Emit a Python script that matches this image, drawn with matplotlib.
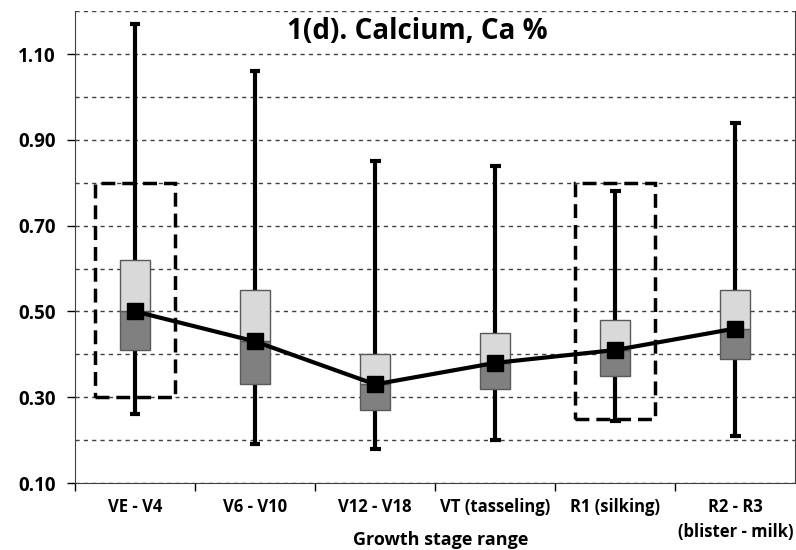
import matplotlib
matplotlib.use('Agg')
import matplotlib.pyplot as plt
import matplotlib.ticker as ticker
from matplotlib.patches import Rectangle

stages = ['VE - V4', 'V6 - V10', 'V12 - V18', 'VT (tasseling)', 'R1 (silking)',
          'R2 - R3\n(blister - milk)']
whisker_low = [0.26, 0.19, 0.18, 0.20, 0.245, 0.21]
whisker_high = [1.17, 1.06, 0.85, 0.84, 0.78, 0.94]
box_low = [0.41, 0.33, 0.27, 0.32, 0.35, 0.39]
box_mid = [0.50, 0.43, 0.33, 0.38, 0.41, 0.46]
box_high = [0.62, 0.55, 0.40, 0.45, 0.48, 0.55]
means = [0.50, 0.43, 0.33, 0.38, 0.41, 0.46]

# sufficiency ranges (dashed boxes)
range_idx = [0, 4]
range_low = [0.30, 0.25]
range_high = [0.80, 0.80]

plt.rcParams['font.family'] = ['Open Sans', 'DejaVu Sans']
plt.rcParams['font.weight'] = 'bold'

fig = plt.figure(figsize=(7.96, 5.5), dpi=100)
ax = fig.add_axes([0.0942, 0.1218, 0.905, 0.858])

x = list(range(len(stages)))
bw = 0.25

for i in x:
    ax.vlines(i, whisker_low[i], whisker_high[i], color='black', lw=3, zorder=2)
    ax.hlines([whisker_low[i], whisker_high[i]], i - 0.045, i + 0.045,
              color='black', lw=3, zorder=2)
    ax.add_patch(Rectangle((i - bw / 2, box_low[i]), bw, box_mid[i] - box_low[i],
                           facecolor='#808080', edgecolor='#595959', lw=1, zorder=3))
    ax.add_patch(Rectangle((i - bw / 2, box_mid[i]), bw, box_high[i] - box_mid[i],
                           facecolor='#d9d9d9', edgecolor='#595959', lw=1, zorder=3))

for k, i in enumerate(range_idx):
    ax.add_patch(Rectangle((i - 0.335, range_low[k]), 0.67, range_high[k] - range_low[k],
                           fill=False, edgecolor='black', lw=2.5, ls=(0, (4, 2)), zorder=4))

ax.plot(x, means, color='black', lw=3, marker='s', markersize=12, zorder=5)

ax.set_xlim(-0.5, len(stages) - 0.5)
ax.set_ylim(0.1, 1.2)
ax.yaxis.set_major_locator(ticker.FixedLocator([0.1, 0.3, 0.5, 0.7, 0.9, 1.1]))
ax.yaxis.set_minor_locator(ticker.FixedLocator([0.2, 0.4, 0.6, 0.8, 1.0, 1.2]))
ax.yaxis.set_major_formatter(ticker.FormatStrFormatter('%.2f'))
ax.grid(axis='y', which='both', color='#404040', lw=1, ls=(0, (3, 3)), zorder=1)
ax.set_axisbelow(True)
ax.tick_params(axis='y', which='major', length=6, width=1, labelsize=13.5, pad=8)
ax.tick_params(axis='y', which='minor', length=0)

ax.set_xticks([i + 0.5 for i in x[:-1]] + [-0.5], minor=False)
ax.set_xticklabels([])
ax.set_xticks(x, minor=True)
ax.set_xticklabels(stages, minor=True, fontsize=12, va='top', ha='center',
                   linespacing=1.45)
ax.tick_params(axis='x', which='major', length=6, width=1)
ax.tick_params(axis='x', which='minor', length=0, pad=11)

ax.spines['top'].set_visible(False)
for s in ['left', 'bottom', 'right']:
    ax.spines[s].set_color('#404040')

fig.text(0.553, 0.018, 'Growth stage range', fontsize=13, fontweight='bold',
         ha='center', va='center')
ax.text(2.35, 1.152, '1(d). Calcium, Ca %', fontsize=20, fontweight='bold',
        ha='center', va='center', zorder=6)

fig.savefig('out.png', dpi=100)
